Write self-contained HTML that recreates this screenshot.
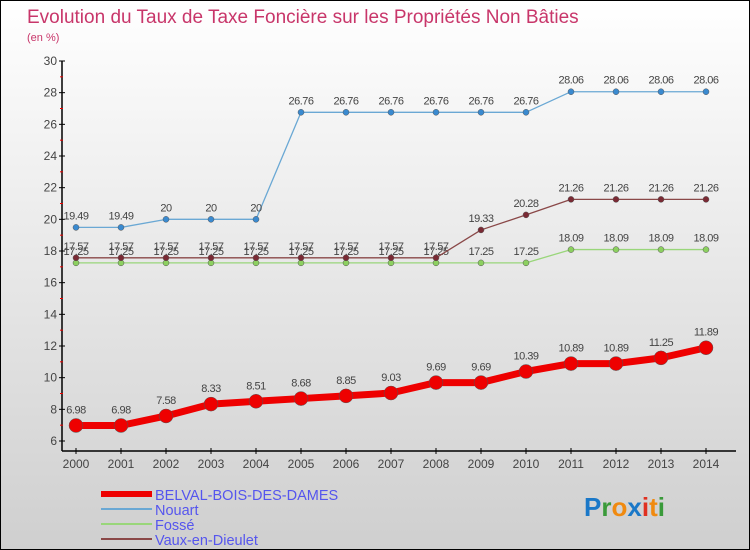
<!DOCTYPE html>
<html><head><meta charset="utf-8"><style>
body{margin:0}
#wrap{width:750px;height:550px;position:relative;overflow:hidden;box-sizing:border-box;border:1px solid #000;background:linear-gradient(#ffffff,#cfcfcf);font-family:"Liberation Sans",sans-serif}
svg text{font-family:"Liberation Sans",sans-serif}
</style></head><body>
<div id="wrap">
<svg id="c" width="750" height="550">
<text x="26" y="22" font-size="19" fill="#c8366a" font-weight="300">Evolution du Taux de Taxe Foncière sur les Propriétés Non Bâties</text>
<text x="26" y="40" font-size="11" fill="#c8366a">(en %)</text>
<g id="axes"></g><g id="series"></g><g id="legend"></g>
<text x="583" y="515" font-size="26" font-family="DejaVu Sans" font-weight="bold"><tspan fill="#1a78c8">P</tspan><tspan fill="#3a9a3a">r</tspan><tspan fill="#f08a10">o</tspan><tspan fill="#1a78c8">x</tspan><tspan fill="#e03020">i</tspan><tspan fill="#f08a10">t</tspan><tspan fill="#3a9a3a">i</tspan></text>
</svg></div>
<script>
const years=[2000,2001,2002,2003,2004,2005,2006,2007,2008,2009,2010,2011,2012,2013,2014];
const yTicks=[6,8,10,12,14,16,18,20,22,24,26,28,30];
const belval=[6.98,6.98,7.58,8.33,8.51,8.68,8.85,9.03,9.69,9.69,10.39,10.89,10.89,11.25,11.89];
const nouart=[19.49,19.49,20,20,20,26.76,26.76,26.76,26.76,26.76,26.76,28.06,28.06,28.06,28.06];
const fosse=[17.25,17.25,17.25,17.25,17.25,17.25,17.25,17.25,17.25,17.25,17.25,18.09,18.09,18.09,18.09];
const vaux=[17.57,17.57,17.57,17.57,17.57,17.57,17.57,17.57,17.57,19.33,20.28,21.26,21.26,21.26,21.26];
const NS="http://www.w3.org/2000/svg";
const X=i=>75+i*45, Y=v=>440-(v-6)*380/24;
function mk(t,a,p){const e=document.createElementNS(NS,t);for(const k in a)e.setAttribute(k,a[k]);p.appendChild(e);return e;}
const ax=document.getElementById('axes');
let l=mk('line',{x1:61,y1:60,x2:61,y2:450,stroke:'#000','stroke-width':1.5},ax);

l=mk('line',{x1:61,y1:450,x2:735,y2:450,stroke:'#000','stroke-width':1.5},ax);

yTicks.forEach((v,k)=>{mk('line',{x1:58,y1:Y(v),x2:64,y2:Y(v),stroke:'#000'},ax);
 if(k<yTicks.length-1) mk('line',{x1:59,y1:Y(v+1),x2:62,y2:Y(v+1),stroke:'#e00'},ax);
 const t=mk('text',{x:56,y:Y(v)+4,'font-size':12,fill:'#444','text-anchor':'end'},ax);t.textContent=v;
 });
years.forEach((y,i)=>{mk('line',{x1:X(i),y1:447,x2:X(i),y2:453,stroke:'#000'},ax);
 const t=mk('text',{x:X(i),y:467,'font-size':12,fill:'#444','text-anchor':'middle'},ax);t.textContent=y;
 });
const sg=document.getElementById('series');
function series(d,col,w,r,name,dotFill){
 const g=mk('g',{},sg);
 mk('polyline',{points:d.map((v,i)=>X(i)+','+Y(v)).join(' '),fill:'none',stroke:col,'stroke-width':w,'stroke-linejoin':'round'},g);
 d.forEach((v,i)=>{const c=mk('circle',{cx:X(i),cy:Y(v),r:r,fill:dotFill,stroke:'#555','stroke-width':0.5},g);
  
  const t=mk('text',{x:X(i),y:Y(v)-r-5,'font-size':11,fill:'#444','text-anchor':'middle','letter-spacing':'-0.5'},g);t.textContent=v;
  });
}
series(fosse,'#99d67a',1.3,3,'fosse','#8cd060');
series(vaux,'#8a4848',1.3,3,'vaux-en-dieulet','#7a2a34');
series(nouart,'#6aa8d4',1.3,3,'nouart','#3a8ad0');
series(belval,'#ee0000',7,7,'belval','#ee0000');
const lg=document.getElementById('legend');
[['BELVAL-BOIS-DES-DAMES','#ee0000',6],['Nouart','#6aa8d4',2],['Fossé','#99d67a',2],['Vaux-en-Dieulet','#8a4848',2]].forEach((e,i)=>{
 const y=493+i*15;
 const g=mk('g',{},lg);
 mk('line',{x1:100,y1:y,x2:151,y2:y,stroke:e[1],'stroke-width':e[2]},g);
 const t=mk('text',{x:154,y:y+6,'font-size':14.5,fill:'#5555ee'},g);t.textContent=e[0];});
</script></body></html>
